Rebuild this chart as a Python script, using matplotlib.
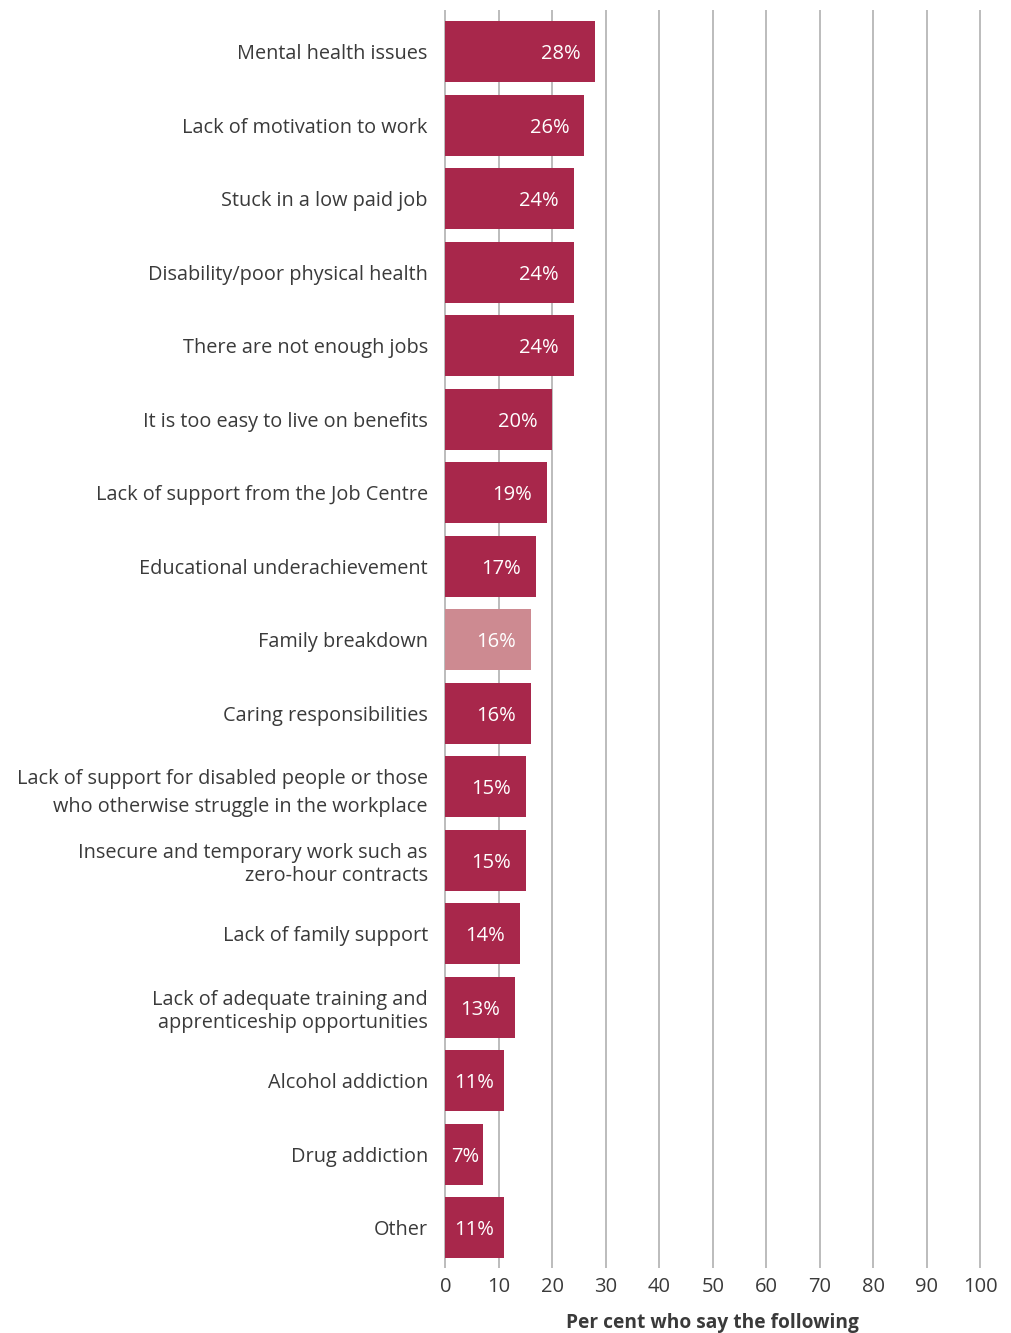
import matplotlib.pyplot as plt

plt.rcParams['font.family'] = ['Open Sans', 'DejaVu Sans']

categories = [
    "Mental health issues",
    "Lack of motivation to work",
    "Stuck in a low paid job",
    "Disability/poor physical health",
    "There are not enough jobs",
    "It is too easy to live on benefits",
    "Lack of support from the Job Centre",
    "Educational underachievement",
    "Family breakdown",
    "Caring responsibilities",
    "Lack of support for disabled people or those\nwho otherwise struggle in the workplace",
    "Insecure and temporary work such as\nzero-hour contracts",
    "Lack of family support",
    "Lack of adequate training and\napprenticeship opportunities",
    "Alcohol addiction",
    "Drug addiction",
    "Other",
]
values = [28, 26, 24, 24, 24, 20, 19, 17, 16, 16, 15, 15, 14, 13, 11, 7, 11]
highlight = "Family breakdown"
xticks = [0, 10, 20, 30, 40, 50, 60, 70, 80, 90, 100]

main_col = '#A8274B'
light_col = '#CD8A91'
text_col = '#3a3a3a'

fig = plt.figure(figsize=(10.11, 13.33), dpi=100)
ax = fig.add_axes([0.439, 0.0488, 0.532, 0.9437])

pos = list(range(len(categories)))
cols = [light_col if c == highlight else main_col for c in categories]

for x in xticks:
    ax.axvline(x, color='#b0b0b0', lw=1.2, zorder=0)

ax.barh(pos, values, height=0.83, color=cols, zorder=2)

# short bars get their label pushed closer to the bar end
for p, v in zip(pos, values):
    off = -4 if v < 10 else (-10 if v < 12 else -15)
    ax.annotate(f"{v}%", (v, p), xytext=(off, 0), textcoords='offset pixels',
                ha='right', va='center_baseline', color='white', fontsize=14.5, zorder=3)

ax.set_xlim(-0.3, 100.3)
ax.set_ylim(16.55, -0.57)
ax.set_xticks(xticks)
ax.set_yticks(pos)
ax.set_yticklabels(categories, fontsize=14.3, color=text_col, linespacing=1.2)
# the first two-line label is set more loosely
ax.get_yticklabels()[10].set_linespacing(1.5)
ax.tick_params(axis='y', length=0, pad=11.5)
ax.tick_params(axis='x', length=0, pad=6.5, labelsize=14.5, labelcolor=text_col)
for s in ax.spines.values():
    s.set_visible(False)

ax.set_xlabel("Per cent who say the following", fontsize=13.8, fontweight='bold',
              color=text_col, labelpad=11.5)

fig.savefig('out.png', dpi=100)
